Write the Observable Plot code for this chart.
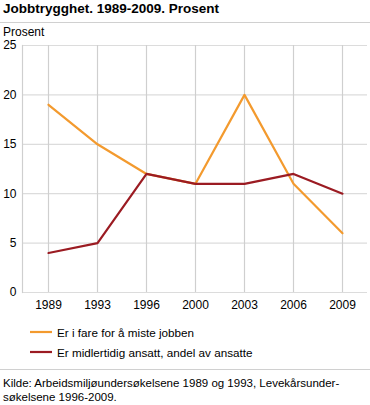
<!DOCTYPE html>
<html><head><meta charset="utf-8">
<script src="https://cdn.jsdelivr.net/npm/d3@7"></script>
<script src="https://cdn.jsdelivr.net/npm/@observablehq/plot@0.6"></script>
<style>
body{margin:0;width:370px;height:405px;overflow:hidden;font-family:"Liberation Sans",Arial,sans-serif;color:#000;background:#fff}
#title{position:absolute;left:3px;top:0px;font-weight:bold;font-size:13.5px;line-height:18px}
.sep{position:absolute;left:0;width:370px;height:1px;background:#d0d0d0}
#ylab{position:absolute;left:3px;top:25px;font-size:12px;line-height:15px}
#chart{position:absolute;left:0;top:38px}
#legend{position:absolute;left:30px;top:322px;font-size:11.7px}
.item{display:flex;align-items:center;height:20px}
.item svg{margin-right:5px}
#caption{position:absolute;left:3px;top:376px;font-size:11.5px;line-height:14px}
</style></head>
<body>
<div id="title">Jobbtrygghet. 1989-2009. Prosent</div>
<div class="sep" style="top:22px"></div>
<div id="ylab">Prosent</div>
<div id="chart"></div>
<div id="legend"></div>
<div class="sep" style="top:369px"></div>
<div id="caption">Kilde: Arbeidsmiljøundersøkelsene 1989 og 1993, Levekårsunder-<br>søkelsene 1996-2009.</div>
<script>
const years = ["1989","1993","1996","2000","2003","2006","2009"];
const seriesNames = ["Er i fare for å miste jobben","Er midlertidig ansatt, andel av ansatte"];
const fareForAMiste = [19, 15, 12, 11, 20, 11, 6];
const midlertidig = [4, 5, 12, 11, 11, 12, 10];
const colors = ["#f39a2e", "#9b1b22"];
const yTicks = [0, 5, 10, 15, 20, 25];

const data = [];
years.forEach((y, i) => {
  data.push({year: y, value: fareForAMiste[i], series: seriesNames[0]});
  data.push({year: y, value: midlertidig[i], series: seriesNames[1]});
});

const plot = Plot.plot({
  width: 370,
  height: 282,
  marginLeft: 22,
  marginRight: 3,
  marginTop: 7,
  marginBottom: 28,
  style: {fontFamily: "Liberation Sans, Arial, sans-serif", fontSize: "12px", color: "#000", background: "transparent"},
  x: {type: "point", domain: years, padding: 0.5, label: null},
  y: {domain: [0, 25], label: null},
  color: {domain: seriesNames, range: colors},
  marks: [
    Plot.gridY(yTicks, {stroke: "#dcdcdc", strokeOpacity: 1, strokeWidth: 1.2}),
    Plot.gridX(years, {stroke: "#cfcfcf", strokeOpacity: 1, strokeWidth: 1.2}),
    Plot.frame({anchor: "left", stroke: "#cfcfcf", strokeWidth: 1.2}),
    Plot.axisY(yTicks, {tickSize: 0, tickPadding: 6, fontSize: 12, label: null}),
    Plot.axisX(years, {tickSize: 0, tickPadding: 8, fontSize: 12, label: null}),
    Plot.line(data, {x: "year", y: "value", z: "series", stroke: "series", strokeWidth: 2.2, curve: "linear"})
  ]
});
document.getElementById("chart").appendChild(plot);

const legend = document.getElementById("legend");
seriesNames.forEach((name, i) => {
  const d = document.createElement("div");
  d.className = "item";
  d.innerHTML = `<svg width="22" height="4"><line x1="0" x2="22" y1="2" y2="2" stroke="${colors[i]}" stroke-width="2.2"/></svg><span>${name}</span>`;
  legend.appendChild(d);
});
</script>
</body></html>
